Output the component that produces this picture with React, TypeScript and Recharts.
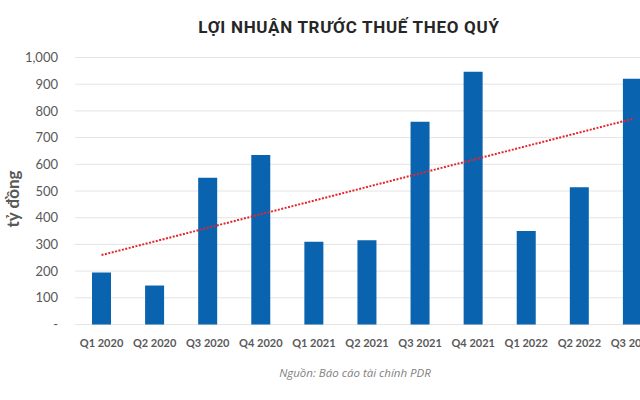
import { BarChart, Bar, XAxis, YAxis, CartesianGrid, ReferenceLine } from 'recharts'

const QUARTERS = [
  'Q1 2020', 'Q2 2020', 'Q3 2020', 'Q4 2020',
  'Q1 2021', 'Q2 2021', 'Q3 2021', 'Q4 2021',
  'Q1 2022', 'Q2 2022', 'Q3 2022',
]
const PROFIT = [195, 146, 550, 635, 310, 316, 759, 947, 350, 514, 920]
const Y_TICKS = [0, 100, 200, 300, 400, 500, 600, 700, 800, 900, 1000]
// linear trendline, start and end values
const TREND = [260, 770]

const data = QUARTERS.map((q, i) => ({ quarter: q, profit: PROFIT[i] }))

const labelColor = '#595959'

export default function App() {
  return (
    <div
      style={{
        position: 'absolute',
        left: 0,
        top: 0,
        width: 640,
        height: 400,
        overflow: 'hidden',
        background: '#fff',
      }}
    >
      {/* Title */}
      <div
        style={{
          position: 'absolute',
          left: 349,
          top: 19,
          transform: 'translateX(-50%)',
          whiteSpace: 'nowrap',
          fontFamily: 'Roboto, sans-serif',
          fontWeight: 700,
          fontSize: 17,
          lineHeight: '17px',
          letterSpacing: 0.7,
          color: '#262626',
        }}
      >
        LỢI NHUẬN TRƯỚC THUẾ THEO QUÝ
      </div>

      {/* Y axis title */}
      <div
        style={{
          position: 'absolute',
          left: 12,
          top: 199,
          transform: 'translate(-50%, -50%) rotate(-90deg)',
          whiteSpace: 'nowrap',
          fontFamily: 'Lato, sans-serif',
          fontWeight: 700,
          fontSize: 17,
          lineHeight: '17px',
          color: labelColor,
        }}
      >
        tỷ đồng
      </div>

      {/* Chart is wider than the frame: last bar and label are clipped like the original */}
      <div style={{ position: 'absolute', left: 0, top: 0 }}>
        <BarChart
          width={660}
          height={400}
          data={data}
          margin={{ top: 57.5, right: 1, left: 0, bottom: 45.5 }}
        >
          <CartesianGrid vertical={false} stroke="#e4e4e4" />
          <XAxis
            dataKey="quarter"
            axisLine={false}
            tickLine={false}
            tickMargin={9}
            height={30}
            interval={0}
            tick={{ fill: labelColor, fontFamily: 'Lato, sans-serif', fontWeight: 700, fontSize: 11 }}
          />
          <YAxis
            type="number"
            domain={[0, 1000]}
            ticks={Y_TICKS}
            width={75}
            axisLine={false}
            tickLine={false}
            tickMargin={11}
            tickFormatter={(v: number) => (v === 0 ? '-' : v.toLocaleString('en-US'))}
            tick={{ fill: labelColor, fontFamily: 'Lato, sans-serif', fontSize: 13 }}
          />
          <Bar dataKey="profit" fill="#0a63ae" barSize={19} isAnimationActive={false} />
          <ReferenceLine
            segment={[
              { x: QUARTERS[0], y: TREND[0] },
              { x: QUARTERS[QUARTERS.length - 1], y: TREND[1] },
            ]}
            stroke="#e3262b"
            strokeWidth={2}
            strokeDasharray="2 1.5"
          />
        </BarChart>
      </div>

      {/* Source */}
      <div
        style={{
          position: 'absolute',
          left: 355,
          top: 366,
          transform: 'translateX(-50%)',
          whiteSpace: 'nowrap',
          fontFamily: '"Open Sans", sans-serif',
          fontStyle: 'italic',
          fontSize: 11.5,
          lineHeight: '14px',
          color: '#7f7f7f',
        }}
      >
        Nguồn: Báo cáo tài chính PDR
      </div>
    </div>
  )
}
